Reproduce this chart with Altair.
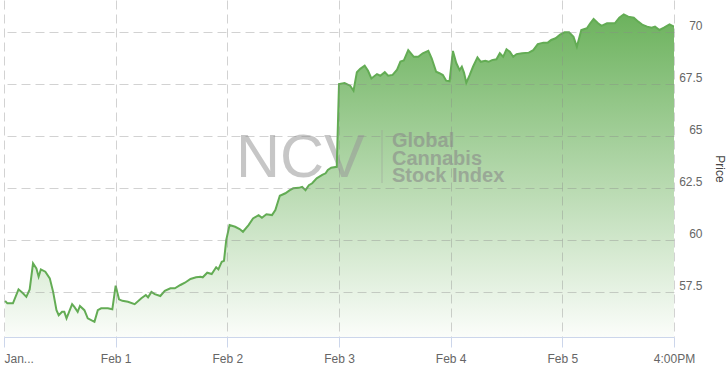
import altair as alt
import pandas as pd

# x position in trading-session units (0 = start of first session, 6 = Feb 5 close)
positions = [
    0.01, 0.03, 0.08, 0.13, 0.17, 0.20, 0.23, 0.26, 0.29, 0.31, 0.33, 0.37, 0.41, 0.44, 0.47,
    0.49, 0.52, 0.54, 0.56, 0.61, 0.63, 0.66, 0.68, 0.72, 0.75, 0.81, 0.84, 0.87, 0.93, 0.97,
    1.00, 1.03, 1.06, 1.11, 1.17, 1.23, 1.27, 1.29, 1.32, 1.35, 1.40, 1.44, 1.49, 1.53, 1.58,
    1.62, 1.67, 1.72, 1.76, 1.78, 1.82, 1.86, 1.90, 1.92, 1.95, 1.97,
    1.99, 2.02, 2.07, 2.11, 2.14, 2.19, 2.23, 2.28, 2.31, 2.35, 2.40, 2.43, 2.47, 2.52, 2.56,
    2.59, 2.64, 2.67, 2.70, 2.73, 2.76, 2.80, 2.85, 2.88, 2.90, 2.93, 2.98,
    3.00, 3.05, 3.10, 3.13, 3.16, 3.19, 3.23, 3.26, 3.29, 3.34, 3.37, 3.41, 3.44, 3.48, 3.52,
    3.55, 3.58, 3.62, 3.67, 3.71, 3.75, 3.80, 3.83, 3.87, 3.90, 3.93, 3.96, 3.99,
    4.02, 4.05, 4.08, 4.10, 4.12, 4.14, 4.17, 4.20, 4.24, 4.27, 4.31, 4.34, 4.37, 4.41, 4.44,
    4.47, 4.50, 4.53, 4.56, 4.59, 4.64, 4.70, 4.74, 4.78, 4.83, 4.87, 4.90, 4.94, 4.98,
    5.02, 5.06, 5.10, 5.13, 5.17, 5.22, 5.25, 5.28, 5.32, 5.35, 5.40, 5.44, 5.47, 5.51, 5.55,
    5.59, 5.64, 5.68, 5.72, 5.76, 5.80, 5.83, 5.87, 5.91, 5.96, 6.00,
]
prices = [
    57.08, 56.96, 56.96, 57.63, 57.44, 57.27, 57.63, 58.88, 58.64, 58.24, 58.59, 58.48, 58.16, 57.51, 56.63,
    56.39, 56.55, 56.55, 56.24, 56.92, 56.79, 56.55, 56.83, 56.63, 56.24, 56.07, 56.63, 56.72, 56.72, 56.67,
    57.81, 57.15, 57.08, 57.03, 56.92, 57.20, 57.36, 57.25, 57.51, 57.40, 57.31, 57.56, 57.68, 57.68, 57.84,
    57.95, 58.13, 58.21, 58.24, 58.21, 58.43, 58.37, 58.69, 58.59, 58.96, 59.00,
    60.00, 60.72, 60.64, 60.53, 60.40, 60.72, 61.04, 61.20, 61.07, 61.24, 61.20, 61.44, 62.13, 62.25, 62.40,
    62.49, 62.51, 62.56, 62.40, 62.64, 62.73, 62.97, 63.13, 63.21, 63.37, 63.48, 63.52,
    67.50, 67.55, 67.42, 67.18, 68.07, 68.23, 68.38, 68.14, 67.77, 67.98, 67.90, 68.07, 67.90, 67.94, 68.19,
    68.58, 68.63, 69.13, 68.81, 68.81, 68.98, 69.10, 68.74, 68.09, 68.02, 67.93, 67.66, 67.63,
    69.09, 68.51, 68.17, 68.33, 68.04, 67.56, 67.93, 68.33, 68.78, 68.57, 68.62, 68.57, 68.65, 68.69, 68.98,
    68.81, 69.17, 69.05, 68.81, 68.94, 68.98, 69.01, 69.13, 69.42, 69.49, 69.49, 69.62, 69.70, 69.88,
    69.99, 69.99, 69.77, 69.29, 70.10, 70.18, 70.42, 70.63, 70.42, 70.30, 70.42, 70.42, 70.42, 70.69, 70.85,
    70.74, 70.69, 70.50, 70.34, 70.26, 70.21, 70.26, 70.10, 70.21, 70.37, 70.26,
]
tick_positions = [0, 1, 2, 3, 4, 5, 6]
tick_labels = ["Jan...", "Feb 1", "Feb 2", "Feb 3", "Feb 4", "Feb 5", "4:00PM"]
price_ticks = [57.5, 60, 62.5, 65, 67.5, 70]
y_domain = [55.34, 71.54]

watermark_big = ["NCV"]
watermark_lines = ["Global", "Cannabis", "Stock Index"]

df = pd.DataFrame({"pos": positions, "price": prices})

label_expr = ""
for p, lab in zip(tick_positions, tick_labels):
    label_expr += f"datum.value == {p} ? '{lab}' : "
label_expr += "''"

FONT = "Liberation Sans"
GRID_DASH = [9, 5]

x_enc = alt.X(
    "pos:Q",
    scale=alt.Scale(domain=[0, 6], nice=False, zero=False),
    axis=alt.Axis(
        values=tick_positions,
        labelExpr=label_expr,
        title=None,
        grid=True,
        gridDash=GRID_DASH,
        gridColor="#888888",
        gridOpacity=0.38,
        tickSize=10,
        tickColor="#ccd6eb",
        domainColor="#ccd6eb",
        labelColor="#666666",
        labelFont=FONT,
        labelFontSize=12,
        labelPadding=15,
        labelBaseline="alphabetic",
        labelFlush=False,
        labelOverlap=False,
        labelAlign={"condition": {"test": "datum.value == 0", "value": "left"}, "value": "center"},
        zindex=1,
    ),
)
y_enc = alt.Y(
    "price:Q",
    scale=alt.Scale(domain=y_domain, nice=False, zero=False),
    axis=alt.Axis(
        orient="right",
        values=price_ticks,
        labelExpr="'' + datum.value",
        grid=True,
        gridDash=GRID_DASH,
        gridColor="#888888",
        gridOpacity=0.38,
        domain=False,
        ticks=False,
        tickSize=0,
        labelColor="#666666",
        labelFont=FONT,
        labelFontSize=12,
        labelAlign="right",
        labelBaseline="middle",
        labelPadding=28,
        labelOffset=-7,
        title="Price",
        titleFont=FONT,
        titleFontSize=12,
        titleFontWeight="normal",
        titleColor="#444444",
        titleAngle=90,
        titleX=45,
        titleY=168.5,
        titleAlign="center",
        titleBaseline="middle",
        zindex=1,
    ),
)

base = alt.Chart(df)

area = base.mark_area(
    clip=True,
    color=alt.Gradient(
        gradient="linear",
        stops=[
            alt.GradientStop(color="#6cb25d", offset=0),
            alt.GradientStop(color="#fbfdfa", offset=1),
        ],
        x1=0, x2=0, y1=0, y2=1,
    ),
).encode(x=x_enc, y=y_enc, y2=alt.datum(y_domain[0]))

line = base.mark_line(clip=True, color="#63ac54", strokeWidth=2).encode(x="pos:Q", y="price:Q")

wm_big = alt.Chart(pd.DataFrame({"t": watermark_big})).mark_text(
    align="left", baseline="alphabetic", font=FONT, fontSize=61, color="#999999", opacity=0.55
).encode(text="t:N", x=alt.value(232), y=alt.value(177))

wm_rule = alt.Chart(pd.DataFrame({"t": watermark_big})).mark_rule(
    color="#999999", opacity=0.5, strokeWidth=1
).encode(x=alt.value(378), y=alt.value(130), y2=alt.value(183))

wm_text = alt.Chart(pd.DataFrame({"t": ["\n".join(watermark_lines)]})).mark_text(
    align="left", baseline="top", font=FONT, fontSize=20, fontWeight="bold",
    lineBreak="\n", lineHeight=17.5, color="#8a8a8a", opacity=0.6
).encode(text="t:N", x=alt.value(388), y=alt.value(131))

chart = alt.layer(area, wm_big, wm_rule, wm_text, line).properties(
    width=670,
    height=337,
    padding={"left": 4, "top": 0, "right": 54, "bottom": 38},
    autosize=alt.AutoSizeParams(type="none"),
    background="white",
).configure_view(stroke=None)

chart.save("out.html", embed_options={"renderer": "svg", "actions": False})
